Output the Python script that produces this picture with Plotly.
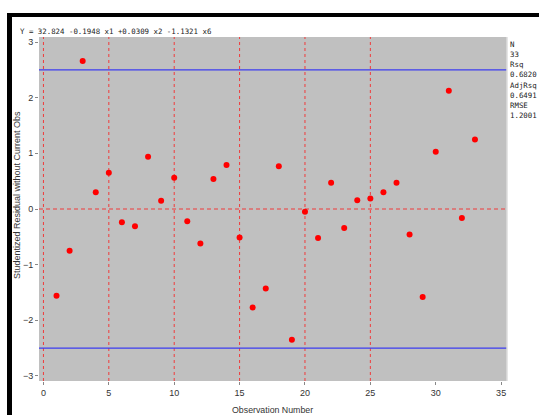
import plotly.graph_objects as go

obs = list(range(1, 34))
resid = [-1.56, -0.75, 2.66, 0.30, 0.65, -0.24, -0.31, 0.94, 0.15, 0.56,
         -0.22, -0.62, 0.54, 0.79, -0.51, -1.77, -1.43, 0.77, -2.35, -0.05,
         -0.52, 0.47, -0.34, 0.155, 0.19, 0.30, 0.47, -0.46, -1.58, 1.03,
         2.125, -0.16, 1.25]
ref_x = [0, 5, 10, 15, 20, 25]
limit = 2.5
x_ticks = [0, 5, 10, 15, 20, 25, 30, 35]
y_ticks = [-3, -2, -1, 0, 1, 2, 3]
equation = "Y = 32.824 -0.1948 x1 +0.0309 x2 -1.1321 x6"
stats = [("N", "33"), ("Rsq", "0.6820"), ("AdjRsq", "0.6491"), ("RMSE", "1.2001")]

W, H = 539, 415
L, T = 39, 37
R = W - 507
B = H - 381
pw, ph = W - L - R, H - T - B


def px(x):  # page pixel -> paper
    return (x - L) / pw


def py(y):
    return (H - B - y) / ph


fig = go.Figure()
fig.add_trace(go.Scatter(x=obs, y=resid, mode="markers",
                         marker=dict(color="#ff0000", size=6), showlegend=False))

shapes = []
for xv in ref_x:
    shapes.append(dict(type="line", xref="x", yref="paper", x0=xv, x1=xv, y0=0, y1=1,
                       line=dict(color="#f03a3a", width=1, dash="3px,3px"), layer="below"))
shapes.append(dict(type="line", xref="paper", yref="y", x0=0, x1=1, y0=0, y1=0,
                   line=dict(color="#f03a3a", width=1, dash="4px,3px"), layer="below"))
for yv in (limit, -limit):
    shapes.append(dict(type="line", xref="paper", yref="y", x0=0, x1=1, y0=yv, y1=yv,
                       line=dict(color="#3c3cf0", width=1.3), layer="below"))
# outer black frame pieces
shapes.append(dict(type="rect", xref="paper", yref="paper", x0=px(7), x1=px(545),
                   y0=py(17), y1=py(13), fillcolor="black", line=dict(width=0)))
shapes.append(dict(type="rect", xref="paper", yref="paper", x0=px(7), x1=px(12),
                   y0=py(420), y1=py(13), fillcolor="black", line=dict(width=0)))
# light edge on the right of plot
shapes.append(dict(type="line", xref="paper", yref="paper", x0=1, x1=1, y0=0, y1=1,
                   line=dict(color="#dcdcdc", width=1.5)))

mono = dict(family="DejaVu Sans Mono", size=7.4, color="#222")
annotations = [dict(text=equation, xref="paper", yref="paper", x=px(18), y=py(32),
                    xanchor="left", yanchor="middle", showarrow=False, font=mono)]
ycent = [49.5, 70, 90, 110]
for (name, val), yc in zip(stats, ycent):
    annotations.append(dict(text=name + "<br>" + val, xref="paper", yref="paper",
                            x=px(509), y=py(yc), xanchor="left", yanchor="middle",
                            align="left", showarrow=False, font=mono, borderpad=0))
annotations.append(dict(text="Studentized Residual without Current Obs", textangle=-90,
                        xref="paper", yref="paper", x=px(17), y=py(195),
                        xanchor="center", yanchor="middle", showarrow=False,
                        font=dict(family="Liberation Sans, Arial", size=9, color="#333")))
annotations.append(dict(text="Observation Number",
                        xref="paper", yref="paper", x=px(272), y=py(410),
                        xanchor="center", yanchor="middle", showarrow=False,
                        font=dict(family="Liberation Sans, Arial", size=8.8, color="#333")))

fig.update_layout(
    width=W, height=H,
    margin=dict(l=L, r=R, t=T, b=B),
    paper_bgcolor="white", plot_bgcolor="#c0c0c0",
    font=dict(family="Liberation Sans, Arial", size=9, color="#333"),
    shapes=shapes, annotations=annotations,
    xaxis=dict(range=[-0.34, 35.45], tickvals=x_ticks, ticks="outside", ticklen=3,
               tickcolor="#888", showgrid=False, zeroline=False, showline=False),
    yaxis=dict(range=[-3.09, 3.09], tickvals=y_ticks, ticks="outside", ticklen=3,
               tickcolor="#888", showgrid=False, zeroline=False, showline=False),
)

fig.write_html("out.html", config={"displayModeBar": False},
               post_script="document.body.style.margin='0';"
                           "document.body.style.overflow='hidden';")
